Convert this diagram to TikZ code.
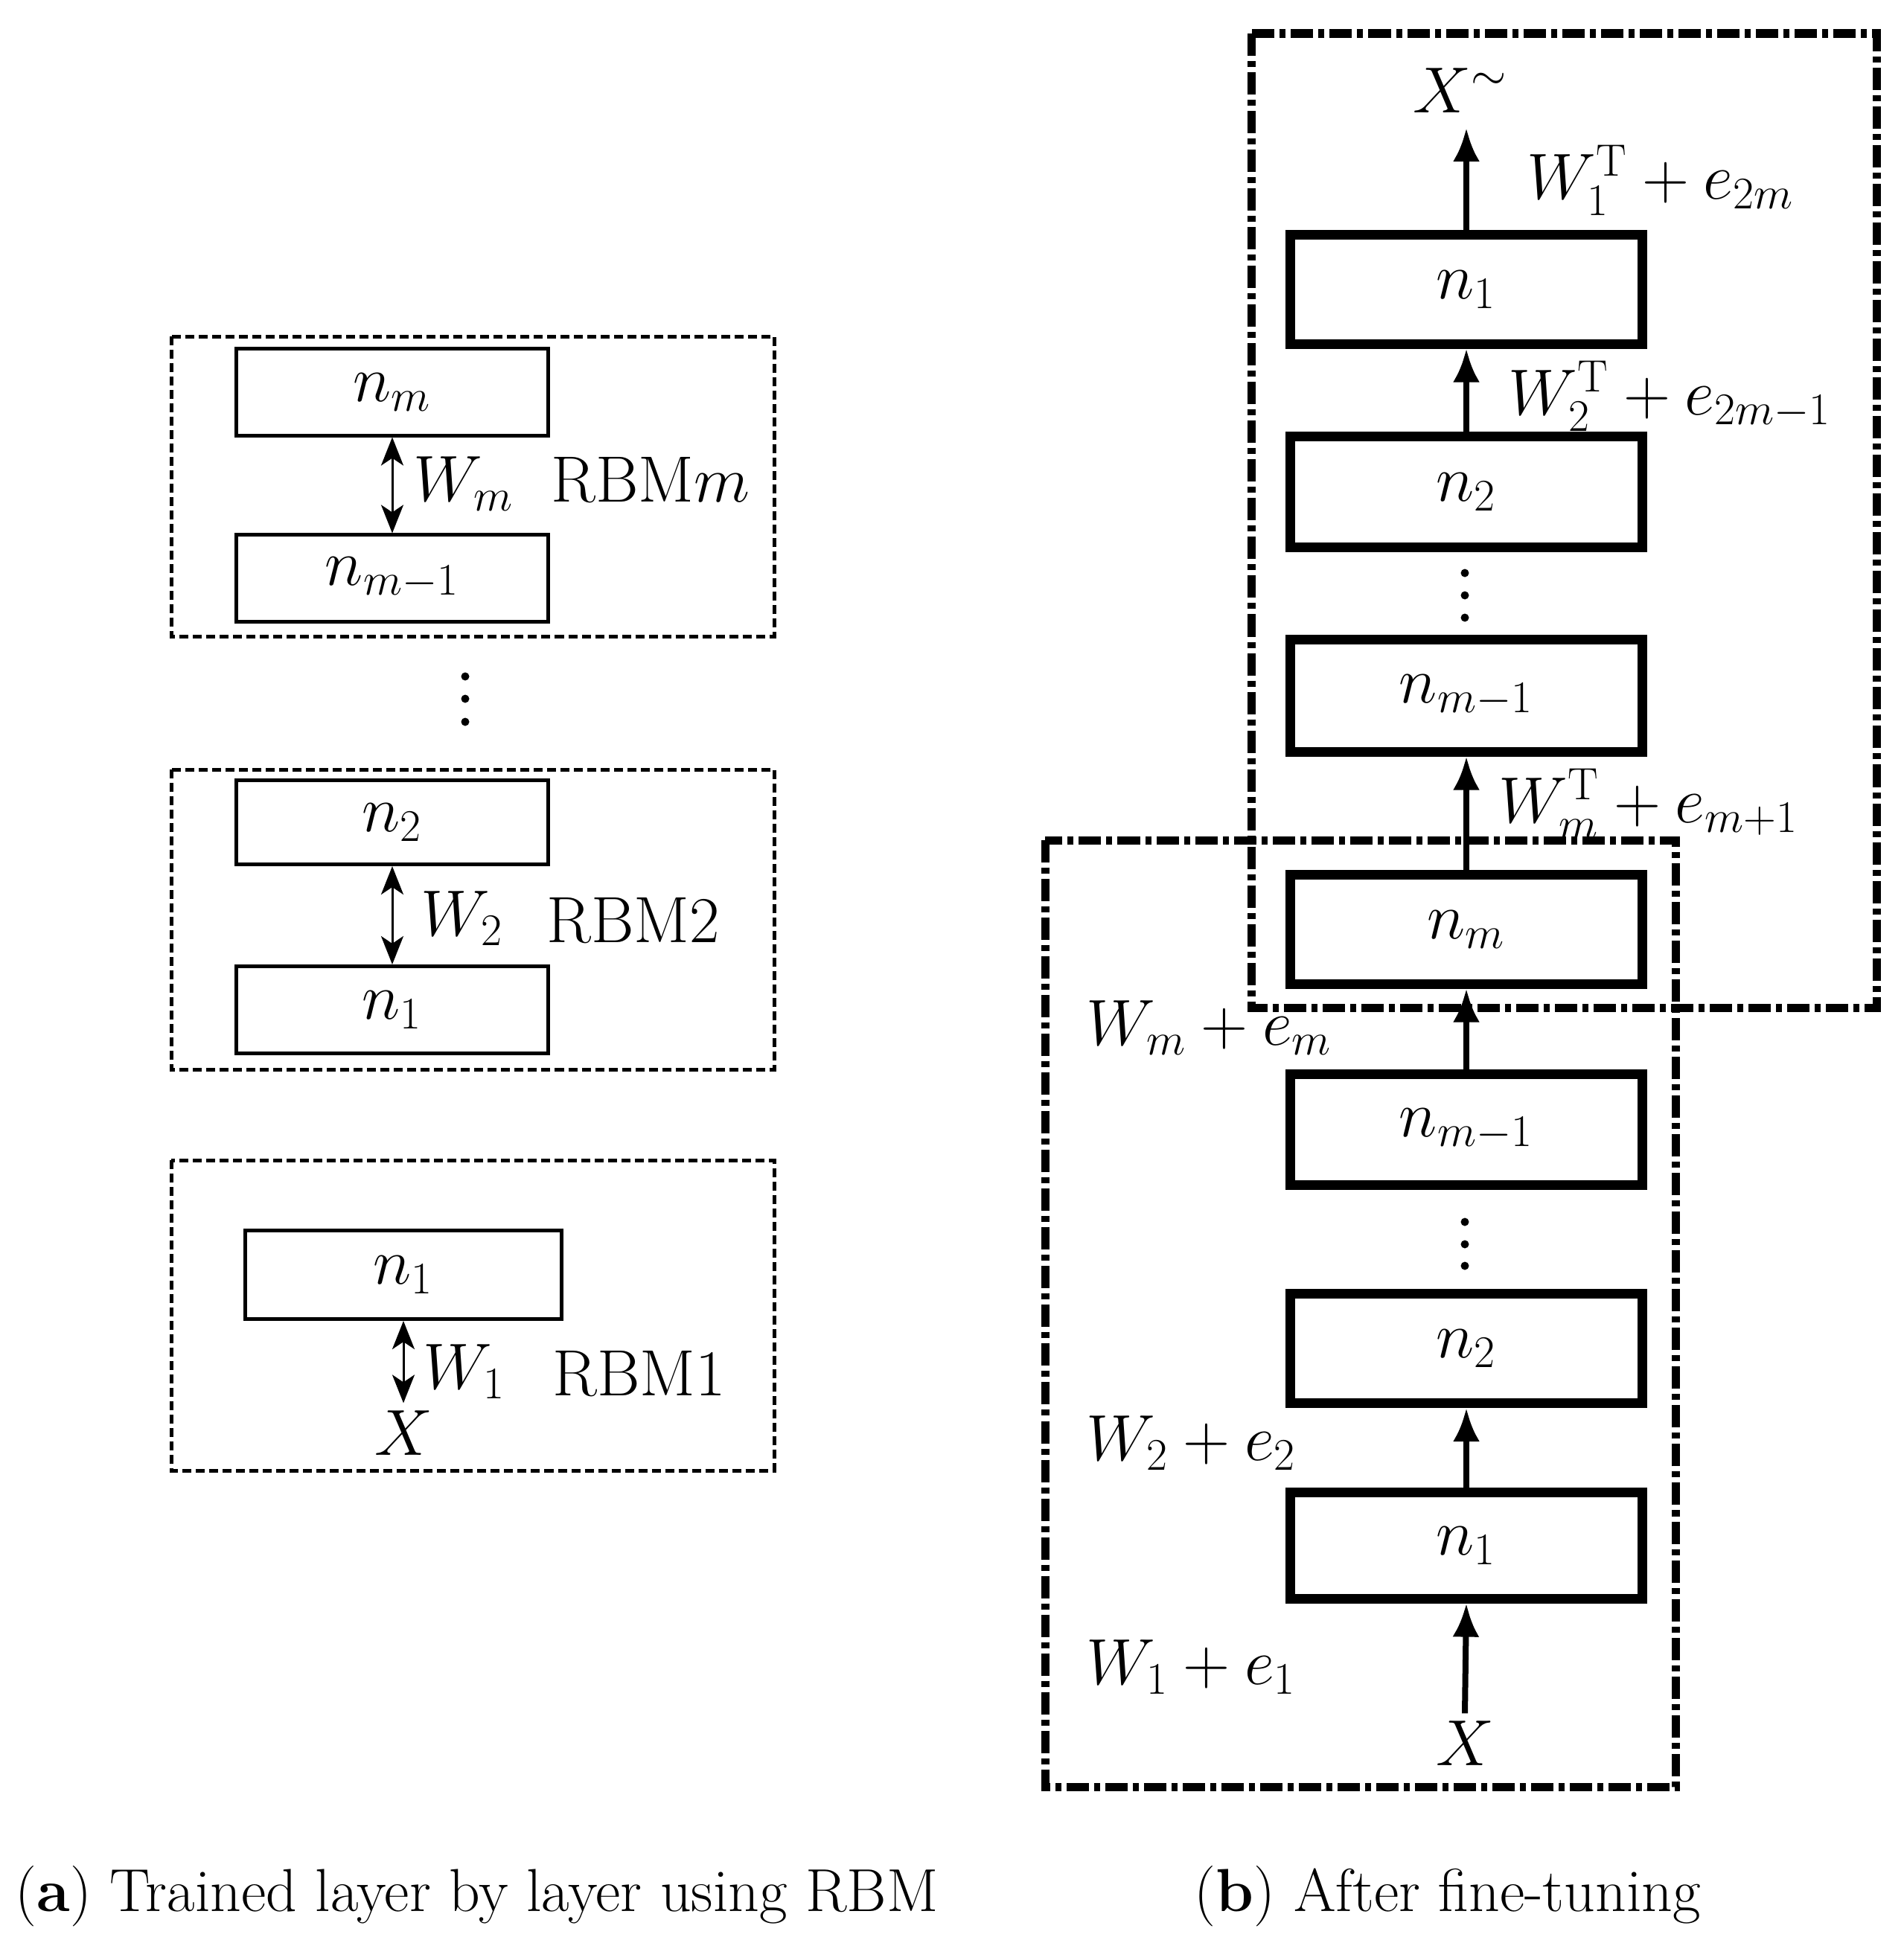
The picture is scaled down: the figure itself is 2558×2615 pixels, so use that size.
\documentclass[tikz,border=0pt]{standalone}
\usetikzlibrary{arrows.meta}
\begin{document}
\begin{tikzpicture}[x=0.01cm,y=-0.01cm,
  lbox/.style={draw,line width=0.05cm,minimum width=4.19cm,minimum height=1.16cm,inner sep=0pt,font=\fontsize{24}{28}\selectfont},
  rbox/.style={draw,line width=0.13cm,minimum width=4.72cm,minimum height=1.46cm,inner sep=0pt,font=\fontsize{24}{28}\selectfont},
  ldash/.style={line width=0.05cm,dash pattern=on 0.12cm off 0.06cm},
  rdash/.style={line width=0.11cm,dash pattern=on 0.3cm off 0.07cm on 0.08cm off 0.07cm},
  larr/.style={line width=0.03cm,{Stealth[length=0.38cm,width=0.3cm,inset=0.1cm]}-{Stealth[length=0.38cm,width=0.3cm,inset=0.1cm]}},
  rarr/.style={line width=0.08cm,-{Latex[length=0.45cm,width=0.36cm]}},
  lbl/.style={font=\fontsize{25}{30}\selectfont,inner sep=0pt},
  captxt/.style={font=\fontsize{23.2}{27}\selectfont,inner sep=0pt,anchor=west},
  dotc/.style={fill,circle,inner sep=0pt,minimum size=0.11cm}
]
\useasboundingbox (0,0) rectangle (2558,2615);

% ---------- left panel ----------
\draw[ldash] (230,452) rectangle (1040,855);
\node[lbox] (Lnm) at (527,527) {$n_m$};
\node[lbox] (Lnm1) at (527,777) {$n_{m-1}$};
\draw[larr] (Lnm.south) -- (Lnm1.north);
\node[lbl,anchor=west] (LWm) at (555,650) {$W_m$};
\node[lbl,anchor=west] (LRm) at (740,645) {RBM$m$};

\node[dotc] (Ld1) at (625,909) {};
\node[dotc] (Ld2) at (625,939) {};
\node[dotc] (Ld3) at (625,970) {};

\draw[ldash] (230,1034) rectangle (1040,1437);
\node[lbox,minimum height=1.13cm] (Ln2) at (527,1105) {$n_2$};
\node[lbox,minimum height=1.17cm] (Ln1) at (527,1357) {$n_1$};
\draw[larr] (Ln2.south) -- (Ln1.north);
\node[lbl,anchor=west] (LW2) at (565,1234) {$W_2$};
\node[lbl,anchor=west] (LR2) at (734,1237) {RBM2};

\draw[ldash] (230,1559) rectangle (1040,1976);
\node[lbox,minimum width=4.25cm,minimum height=1.19cm] (Ln1b) at (542,1713) {$n_1$};
\node[lbl,inner sep=0.1cm] (LX) at (542,1926) {$X$};
\draw[larr] (Ln1b.south) -- (LX.north);
\node[lbl,anchor=west] (LW1) at (568,1843) {$W_1$};
\node[lbl,anchor=west] (LR1) at (742,1846) {RBM1};

% ---------- right panel ----------
\draw[rdash] (1681,45) rectangle (2521,1354);
\draw[rdash] (1404,1129) rectangle (2251,2401);

\node[rbox] (t1) at (1970,389) {$n_1$};
\node[rbox,minimum height=1.48cm] (t2) at (1970,661) {$n_2$};
\node[dotc] (td1) at (1968,770) {};
\node[dotc] (td2) at (1968,800) {};
\node[dotc] (td3) at (1968,830) {};
\node[rbox,minimum height=1.5cm] (t3) at (1970,935) {$n_{m-1}$};
\node[rbox] (nm) at (1970,1249) {$n_m$};
\node[rbox,minimum height=1.48cm] (b3) at (1970,1518) {$n_{m-1}$};
\node[dotc] (bd1) at (1968,1642) {};
\node[dotc] (bd2) at (1968,1672) {};
\node[dotc] (bd3) at (1968,1701) {};
\node[rbox,minimum height=1.47cm] (b2) at (1970,1812) {$n_2$};
\node[rbox,minimum height=1.42cm] (b1) at (1970,2077) {$n_1$};
\node[lbl,inner sep=0.1cm] (RX) at (1968,2343) {$X$};
\node[lbl] (RXt) at (1962,122) {$X^{\sim}$};
\coordinate (xtip) at (1970,172);

\draw[rarr] (RX.north) -- (b1.south);
\draw[rarr] (b1.north) -- (b2.south);
\draw[rarr] (b3.north) -- (nm.south);
\draw[rarr] (nm.north) -- (t3.south);
\draw[rarr] (t2.north) -- (t1.south);
\draw[rarr] (t1.north) -- (xtip);

\node[lbl,anchor=west] (L1T) at (2051,242) {$W_1^{\mathrm{T}}+e_{2m}$};
\node[lbl,anchor=west] (L2T) at (2026,532) {$W_2^{\mathrm{T}}+e_{2m-1}$};
\node[lbl,anchor=west] (LmT) at (2013,1080) {$W_m^{\mathrm{T}}+e_{m+1}$};
\node[lbl,anchor=west] (Lm) at (1459,1381) {$W_m+e_m$};
\node[lbl,anchor=west] (L2) at (1459,1939) {$W_2+e_2$};
\node[lbl,anchor=west] (L1) at (1459,2240) {$W_1+e_1$};

% ---------- captions ----------
\node[captxt] (capa) at (20,2548) {(\textbf{a}) Trained layer by layer using RBM};
\node[captxt] (capb) at (1604,2548) {(\textbf{b}) After fine-tuning};
\end{tikzpicture}
\end{document}
